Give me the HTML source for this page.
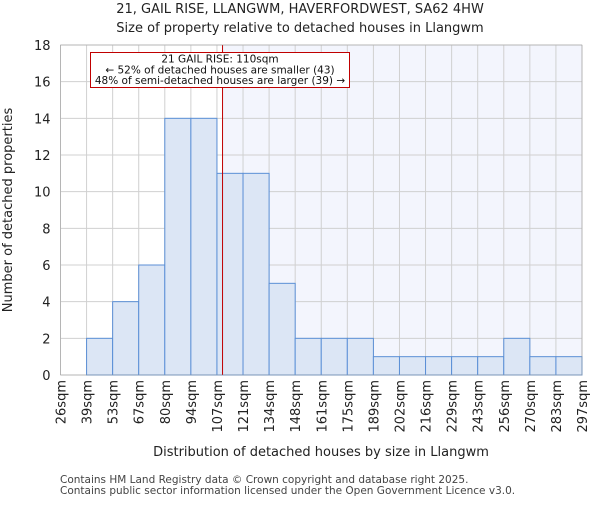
<!DOCTYPE html>
<html><head><meta charset="utf-8"><style>body{margin:0;background:#fff;font-family:"Liberation Sans","DejaVu Sans",sans-serif}</style></head>
<body>
<svg id="chart" width="600" height="500" xmlns="http://www.w3.org/2000/svg" font-family="DejaVu Sans, Liberation Sans, sans-serif">
<text x="300" y="13" text-anchor="middle" font-size="13" fill="#222">21, GAIL RISE, LLANGWM, HAVERFORDWEST, SA62 4HW</text>
<text x="300" y="32" text-anchor="middle" font-size="13" fill="#222">Size of property relative to detached houses in Llangwm</text>
<g id="plot"></g>
<text x="321" y="456" text-anchor="middle" font-size="13" fill="#222">Distribution of detached houses by size in Llangwm</text>
<text transform="translate(12,210) rotate(-90)" text-anchor="middle" font-size="13" fill="#222">Number of detached properties</text>
<text x="60" y="483" font-size="10.5" fill="#444">Contains HM Land Registry data © Crown copyright and database right 2025.</text>
<text x="60" y="494" font-size="10.5" fill="#444">Contains public sector information licensed under the Open Government Licence v3.0.</text>
</svg>
<script>
const tickLabels=["26sqm","39sqm","53sqm","67sqm","80sqm","94sqm","107sqm","121sqm","134sqm","148sqm","161sqm","175sqm","189sqm","202sqm","216sqm","229sqm","243sqm","256sqm","270sqm","283sqm","297sqm"];
const binEdges=[26,39,53,67,80,94,107,121,134,148,161,175,189,202,216,229,243,256,270,283,297];
const counts=[0,2,4,6,14,14,11,11,5,2,2,2,1,1,1,1,1,2,1,1];
const yTicks=[0,2,4,6,8,10,12,14,16,18];
const subjectSize=110;
const L=60.5,R=582,T=45,B=375,yMax=18;
const NS="http://www.w3.org/2000/svg";
const g=document.getElementById('plot');
const n=binEdges.length-1;
function xi(i){return L+(R-L)*i/n;}
function xv(v){let i=0;while(i<n-1&&v>binEdges[i+1])i++;return xi(i)+(v-binEdges[i])/(binEdges[i+1]-binEdges[i])*(xi(i+1)-xi(i));}
function y(v){return B-(B-T)*v/yMax;}
function mk(t,a,name,inter){const e=document.createElementNS(NS,t);for(const k in a)e.setAttribute(k,a[k]);


g.appendChild(e);return e;}
const sx=xv(subjectSize);
mk('rect',{x:sx,y:T,width:R-sx,height:B-T,fill:'#f3f5fd'},'larger-region');
for(let i=0;i<=n;i++)mk('line',{x1:xi(i),x2:xi(i),y1:T,y2:B,stroke:'#d0d0d0','stroke-width':1},'x-gridline');
yTicks.forEach(t=>{mk('line',{x1:L,x2:R,y1:y(t),y2:y(t),stroke:'#d0d0d0','stroke-width':1},'y-gridline');
const tx=mk('text',{x:L-10,y:y(t)+5,'text-anchor':'end','font-size':13,fill:'#222'},'y-tick-label');tx.textContent=t;});
counts.forEach((c,i)=>{if(c>0)mk('rect',{x:xi(i),y:y(c),width:xi(i+1)-xi(i),height:B-y(c),fill:'#dce6f5',stroke:'#5b8fd6','stroke-width':1},'bar-'+binEdges[i]);});
tickLabels.forEach((l,i)=>{const tx=mk('text',{transform:`translate(${xi(i)+5},380) rotate(-90)`,'text-anchor':'end','font-size':13,fill:'#222'},'x-tick-label');tx.textContent=l;});
mk('line',{x1:sx,x2:sx,y1:T,y2:B,stroke:'#c00000','stroke-width':1},'subject-marker-line');
mk('rect',{x:90.5,y:52.5,width:259,height:35,fill:'#fff',stroke:'#c00000','stroke-width':1},'annotation-box');
["21 GAIL RISE: 110sqm","← 52% of detached houses are smaller (43)","48% of semi-detached houses are larger (39) →"].forEach((s,i)=>{
const tx=mk('text',{x:220,y:62.5+i*10.8,'text-anchor':'middle','font-size':10.5,fill:'#111'},'annotation-line');tx.textContent=s;});
mk('rect',{x:L,y:T,width:R-L,height:B-T,fill:'none',stroke:'#999','stroke-width':0.5},'plot-frame');
</script>
</body></html>
